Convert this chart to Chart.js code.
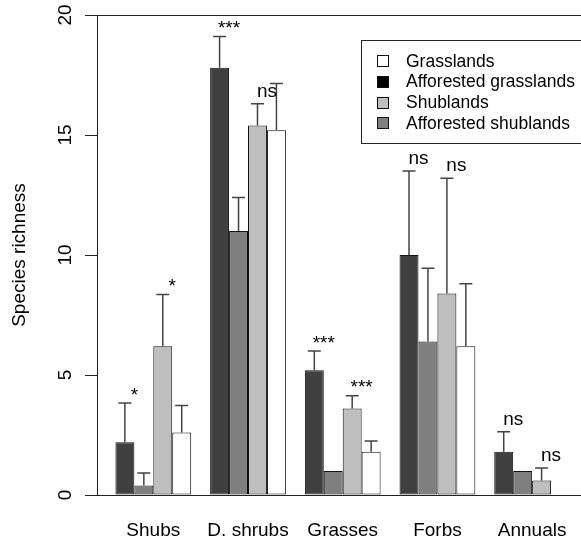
<!DOCTYPE html>
<html>
<head>
<meta charset="utf-8">
<script src="https://cdn.jsdelivr.net/npm/chart.js@4.4.0/dist/chart.umd.min.js"></script>
<style>
  html, body { margin: 0; padding: 0; background: #fff; overflow: hidden; }
  canvas { display: block; }
</style>
</head>
<body>
<canvas id="chart" width="581" height="543"></canvas>
<script>
const categories = ['Shubs', 'D. shrubs', 'Grasses', 'Forbs', 'Annuals'];

// bars inside each group, left to right
const afforestedGrasslands = [2.2, 17.8, 5.2, 10.0, 1.8];
const afforestedShrublands = [0.4, 11.0, 1.0, 6.4, 1.0];
const shrublands = [6.2, 15.4, 3.6, 8.4, 0.6];
const grasslands = [2.6, 15.2, 1.8, 6.2, 0];

// upper error bars
const afforestedGrasslandsSE = [1.63, 1.3, 0.8, 3.5, 0.84];
const afforestedShrublandsSE = [0.52, 1.4, 0, 3.05, 0];
const shrublandsSE = [2.15, 0.9, 0.54, 4.8, 0.52];
const grasslandsSE = [1.13, 1.95, 0.45, 2.6, 0];

// significance labels, over the 1st and 3rd bar of each group
const sigGrasslands = ['*', '***', '***', 'ns', 'ns'];
const sigShrublands = ['*', 'ns', '***', 'ns', 'ns'];

const legendLabels = ['Grasslands', 'Afforested grasslands', 'Shublands', 'Afforested shublands'];
const legendColors = ['#ffffff', '#000000', '#bebebe', '#7f7f7f'];

const seriesNames = ['Afforested grasslands', 'Afforested shublands', 'Shublands', 'Grasslands'];
const seriesValues = [afforestedGrasslands, afforestedShrublands, shrublands, grasslands];
const seriesSE = [afforestedGrasslandsSE, afforestedShrublandsSE, shrublandsSE, grasslandsSE];
const seriesColors = ['#404040', '#7f7f7f', '#bebebe', '#ffffff'];
const seriesSig = [sigGrasslands, null, sigShrublands, null];

const FONT = '"Liberation Sans", Arial, Helvetica, sans-serif';
Chart.defaults.font.family = FONT;
Chart.defaults.color = '#000';

const extras = {
  id: 'extras',
  afterDatasetsDraw(chart) {
    const { ctx, chartArea, scales: { y } } = chart;
    ctx.save();

    // frame top line
    ctx.strokeStyle = '#222';
    ctx.lineWidth = 1;
    ctx.beginPath();
    ctx.moveTo(chartArea.left, Math.round(chartArea.top) + 0.5);
    ctx.lineTo(chart.width, Math.round(chartArea.top) + 0.5);
    ctx.stroke();

    // error bars
    ctx.strokeStyle = '#444';
    ctx.lineWidth = 1.5;
    seriesSE.forEach((errs, d) => {
      const meta = chart.getDatasetMeta(d);
      meta.data.forEach((bar, i) => {
        if (!errs[i]) return;
        const top = y.getPixelForValue(seriesValues[d][i] + errs[i]);
        ctx.beginPath();
        ctx.moveTo(bar.x, bar.y);
        ctx.lineTo(bar.x, top);
        ctx.moveTo(bar.x - 6.5, top);
        ctx.lineTo(bar.x + 6.5, top);
        ctx.stroke();
      });
    });

    // significance text
    ctx.fillStyle = '#000';
    ctx.font = '19px ' + FONT;
    ctx.textAlign = 'center';
    ctx.textBaseline = 'alphabetic';
    seriesSig.forEach((labels, d) => {
      if (!labels) return;
      const meta = chart.getDatasetMeta(d);
      meta.data.forEach((bar, i) => {
        const txt = labels[i];
        const target = y.getPixelForValue(seriesValues[d][i] + seriesSE[d][i]) - 12;
        const m = ctx.measureText(txt);
        const base = target + (m.actualBoundingBoxAscent - m.actualBoundingBoxDescent) / 2;
        ctx.fillText(txt, bar.x + bar.width / 2, base);
      });
    });
    ctx.restore();
  },
  afterDraw(chart) {
    const { ctx } = chart;
    ctx.save();
    // legend box
    ctx.strokeStyle = '#222';
    ctx.lineWidth = 1;
    ctx.strokeRect(361.5, 40.5, 260, 103);
    ctx.font = '17.5px ' + FONT;
    ctx.textAlign = 'left';
    ctx.textBaseline = 'middle';
    legendLabels.forEach((lab, i) => {
      const cy = 60.7 + i * 20.7;
      ctx.fillStyle = legendColors[i];
      ctx.fillRect(377.5, Math.round(cy - 5.5) + 0.5, 11, 11);
      ctx.strokeStyle = '#111';
      ctx.strokeRect(377.5, Math.round(cy - 5.5) + 0.5, 11, 11);
      ctx.fillStyle = '#000';
      ctx.fillText(lab, 406, cy + 1);
    });
    ctx.restore();
  }
};

new Chart(document.getElementById('chart'), {
  type: 'bar',
  data: {
    datasets: seriesValues.map((vals, d) => ({
      label: seriesNames[d],
      data: vals.map((v, i) => ({ x: i, y: v })),
      backgroundColor: seriesColors[d],
      borderColor: '#111',
      borderWidth: 1,
      borderSkipped: false,
      categoryPercentage: 0.8,
      barPercentage: 1.0
    }))
  },
  options: {
    responsive: false,
    animation: false,
    layout: { padding: { top: 15, left: 0, right: 0, bottom: 0 } },
    plugins: {
      legend: { display: false },
      tooltip: { enabled: false }
    },
    scales: {
      x: {
        type: 'linear',
        offset: false,
        min: -0.5945,
        max: 4.516,
        grid: { offset: false, drawOnChartArea: false, drawTicks: false },
        border: { display: true, color: '#222', width: 1 },
        ticks: {
          stepSize: 1,
          includeBounds: false,
          autoSkip: false,
          maxRotation: 0,
          padding: 24,
          font: { size: 19 },
          color: '#000',
          callback: v => categories[v] ?? ''
        },
        afterFit(scale) {
          scale.height = 48;
          scale.paddingLeft = 0;
          scale.paddingRight = 0;
        }
      },
      y: {
        min: 0,
        max: 20,
        ticks: {
          stepSize: 5,
          minRotation: 90,
          maxRotation: 90,
          crossAlign: 'center',
          padding: 9,
          font: { size: 19 },
          color: '#000'
        },
        grid: { drawOnChartArea: false, tickLength: 12, color: '#222' },
        border: { color: '#222', width: 1 },
        title: {
          display: true,
          text: 'Species richness',
          font: { size: 19 },
          color: '#000',
          padding: { top: 8, bottom: 0 }
        },
        afterFit(scale) {
          scale.width = 97;
          scale.paddingTop = 0;
          scale.paddingBottom = 0;
        }
      }
    }
  },
  plugins: [extras]
});
</script>
</body>
</html>
